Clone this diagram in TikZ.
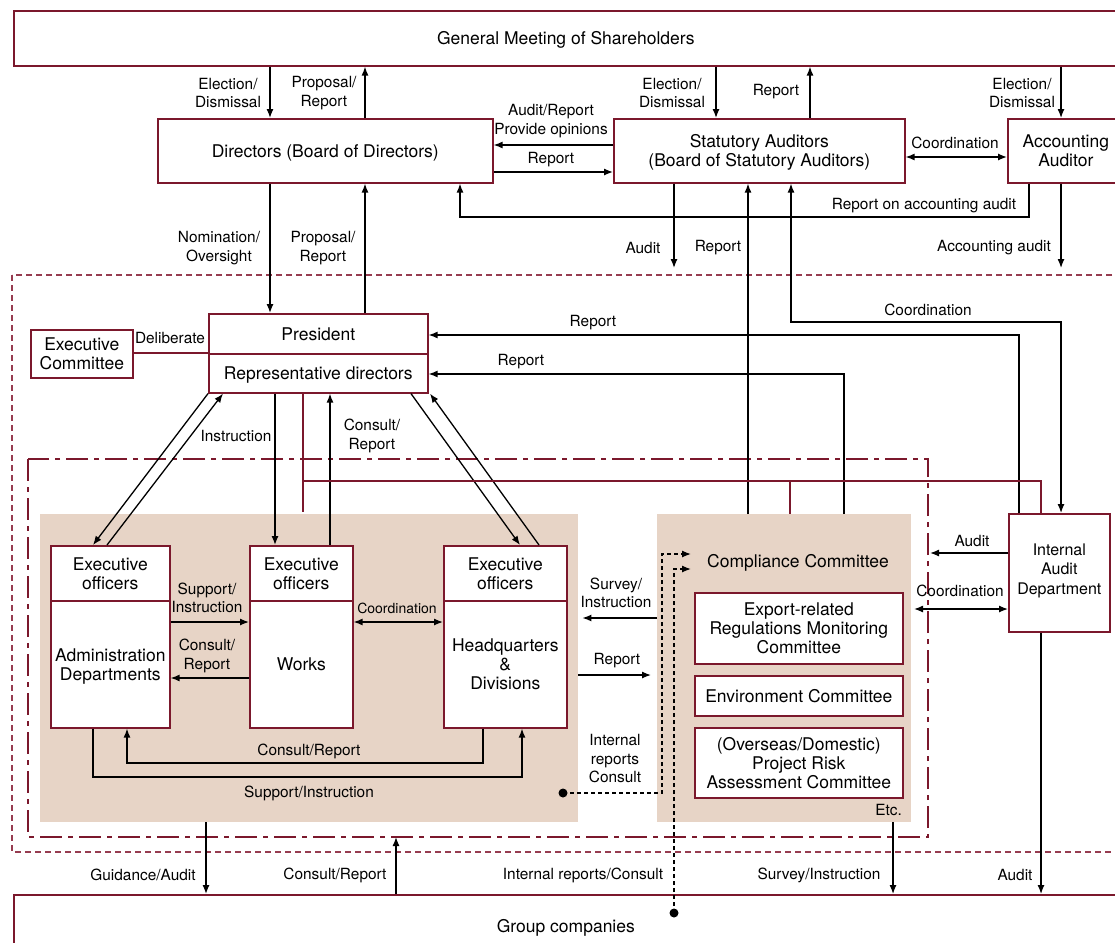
\documentclass[tikz,border=0pt]{standalone}
\usepackage{fontspec}
\setmainfont{TeX Gyre Heros}
\usetikzlibrary{arrows.meta}
\definecolor{mred}{RGB}{123,24,44}
\definecolor{mredl}{RGB}{150,60,80}
\definecolor{tanbg}{RGB}{231,212,198}
\newcommand\fb{\fontsize{17.5}{19}\selectfont}
\newcommand\fia{\fontsize{16}{19.5}\selectfont}
\newcommand\fs{\fontsize{15.4}{18.5}\selectfont}
\newcommand\fxs{\fontsize{14}{17}\selectfont}
\begin{document}
\begin{tikzpicture}[x=1pt,y=-1pt,
  box/.style={draw=mred,line width=1.6pt,fill=white,align=center,inner sep=0pt,font=\fb,anchor=north west,text depth=0pt},
  tanbox/.style={fill=tanbg,draw=none,inner sep=0pt,anchor=north west},
  arr/.style={-{Latex[length=9pt,width=7pt]},line width=1.3pt},
  darr/.style={{Latex[length=9pt,width=7pt]}-{Latex[length=9pt,width=7pt]},line width=1.3pt},
  lbl/.style={align=center,inner sep=0pt,font=\fs},
  redl/.style={draw=mred,line width=1.6pt},
  dotl/.style={dash pattern=on 4pt off 3pt},
  dotnode/.style={circle,fill=black,inner sep=0pt,minimum size=9pt},
]
\useasboundingbox (0,0) rectangle (1115,942);
\begin{scope}
\clip (0,0) rectangle (1115,942);
% coordinates
\foreach \v in {93,107,127,206,223,270,275,303,330,365,396,411,430,460,483,520,522,539,662,674,716,748,790,791,810,844,893,914,930,1019,1029,1041,1061}
  {\coordinate (X\v) at (\v,0);}
\foreach \v in {145,157,172,217,322,335,353,374,481,512,553,554,569,609,618,622,675,678,763,777,837}
  {\coordinate (Y\v) at (0,\v);}

% frames
\draw[mredl,line width=1.2pt,dash pattern=on 6pt off 4pt] (12,275) rectangle (1140,852);
\draw[mred,line width=1.2pt,dash pattern=on 22pt off 6pt on 5pt off 6pt] (28,459) rectangle (928,837);
\node[tanbox,minimum width=538pt,minimum height=308pt] (tan1) at (40,514) {};
\node[tanbox,minimum width=254pt,minimum height=308pt] (tan2) at (657,514) {};

% boxes
\node[box,minimum width=1104pt,minimum height=55pt] (gm) at (13,10) {General Meeting of Shareholders};
\node[box,minimum width=1104pt,minimum height=62pt] (gc) at (13,894) {Group companies};
\node[box,minimum width=335pt,minimum height=64pt] (dir) at (157,118) {Directors (Board of Directors)};
\node[box,minimum width=291pt,minimum height=64pt] (sa) at (613,118) {Statutory Auditors\\(Board of Statutory Auditors)};
\node[box,minimum width=116pt,minimum height=64pt] (aa) at (1007,118) {Accounting\\Auditor};
\node[box,minimum width=219pt,minimum height=40pt] (presT) at (208,313) {President};
\node[box,minimum width=219pt,minimum height=39pt] (presB) at (208,353) {Representative directors};
\node[box,minimum width=102pt,minimum height=48pt] (ec) at (30,329) {Executive\\Committee};
\node[box,minimum width=119pt,minimum height=55pt] (adminT) at (50,545) {Executive\\officers};
\node[box,minimum width=119pt,minimum height=127pt] (adminB) at (50,600) {Administration\\Departments};
\node[box,minimum width=103pt,minimum height=55pt] (worksT) at (249,545) {Executive\\officers};
\node[box,minimum width=103pt,minimum height=127pt] (worksB) at (249,600) {Works};
\node[box,minimum width=123pt,minimum height=55pt] (hqT) at (443,545) {Executive\\officers};
\node[box,minimum width=123pt,minimum height=127pt] (hqB) at (443,600) {Headquarters\\\&\\Divisions};
\node[inner sep=0pt,font=\fb] (cc) at (798,563) {Compliance Committee};
\node[box,minimum width=208pt,minimum height=71pt] (exp) at (694,592) {Export-related\\Regulations Monitoring\\Committee};
\node[box,minimum width=208pt,minimum height=40pt] (env) at (694,675) {Environment Committee};
\node[box,minimum width=208pt,minimum height=70pt] (prj) at (694,727) {(Overseas/Domestic)\\Project Risk\\Assessment Committee};
\node[box,minimum width=101pt,minimum height=118pt,font=\fia,text depth=8pt] (iad) at (1008,513) {Internal\\Audit\\Department};
\node[lbl,anchor=east] (etc) at (902,810) {Etc.};

% connectors top
\draw[arr] (gm.south -| X270) -- (dir.north -| X270);
\draw[arr] (dir.north -| X365) -- (gm.south -| X365);
\draw[arr] (gm.south -| X716) -- (sa.north -| X716);
\draw[arr] (sa.north -| X810) -- (gm.south -| X810);
\draw[arr] (gm.south -| X1061) -- (aa.north -| X1061);
\draw[arr] (sa.west |- Y145) -- (dir.east |- Y145);
\draw[arr] (dir.east |- Y172) -- (sa.west |- Y172);
\draw[darr] (sa.east |- Y157) -- (aa.west |- Y157);
\draw[arr] (aa.south -| X1029) |- (X460 |- Y217) -- (dir.south -| X460);
\coordinate (audE) at (674,268);
\coordinate (accE) at (1061,268);
\draw[arr] (sa.south -| audE) -- (audE);
\draw[arr] (aa.south -| accE) -- (accE);
\draw[arr] (dir.south -| X270) -- (presT.north -| X270);
\draw[arr] (presT.north -| X365) -- (dir.south -| X365);
\draw[arr] (tan2.north -| X748) -- (sa.south -| X748);
\draw[darr] (sa.south -| X791) |- (X1061 |- Y322) -- (iad.north -| X1061);
\draw[arr] (iad.north -| X1019) |- (presT.east |- Y335);
\draw[arr] (tan2.north -| X844) |- (presB.east |- Y374);
\draw[redl] (ec.east |- Y353) -- (presT.west |- Y353);

% diagonals and verticals
\draw[arr] (presB.south west) -- (adminT.north -| X93);
\draw[arr] (adminT.north -| X107) -- (presB.south -| X223);
\draw[arr] (presB.south -| X411) -- (hqT.north -| X520);
\draw[arr] (hqT.north -| X539) -- (presB.south -| X430);
\draw[arr] (presB.south -| X275) -- (worksT.north -| X275);
\draw[arr] (worksT.north -| X330) -- (presB.south -| X330);
\draw[redl] (presB.south -| X303) -- (X303 |- Y512);
\draw[redl] (X303 |- Y481) -| (iad.north -| X1041);
\draw[redl] (X790 |- Y481) -- (tan2.north -| X790);

% inside tan1
\draw[arr] (adminB.east |- Y622) -- (worksB.west |- Y622);
\draw[arr] (worksB.west |- Y678) -- (adminB.east |- Y678);
\draw[darr] (worksB.east |- Y622) -- (hqB.west |- Y622);
\draw[arr] (hqB.south -| X483) |- (X127 |- Y763) -- (adminB.south -| X127);
\draw[arr] (adminB.south -| X93) |- (X522 |- Y777) -- (hqB.south -| X522);

% between tan areas
\draw[arr,shorten >=4pt] (tan2.west |- Y618) -- (tan1.east |- Y618);
\draw[arr,shorten >=6pt] (tan1.east |- Y675) -- (tan2.west |- Y675);
\node[dotnode] (d1) at (563,793) {};
\node[dotnode] (d2) at (674,913) {};
\coordinate (cin1) at (691,554);
\coordinate (cin2) at (691,569);
\draw[arr,dotl] (d1.center) -| (X662 |- Y554) -- (cin1);
\draw[arr,dotl] (d2.center) |- (cin2);

% internal audit
\draw[arr] (iad.west |- Y553) -- (X930 |- Y553);
\draw[darr] (X914 |- Y609) -- (iad.west |- Y609);
\draw[arr] (iad.south -| X1041) -- (gc.north -| X1041);

% bottom
\draw[arr] (tan1.south -| X206) -- (gc.north -| X206);
\draw[arr] (gc.north -| X396) -- (X396 |- Y837);
\draw[arr] (tan2.south -| X893) -- (gc.north -| X893);

% labels
\node[lbl] (l1) at (228,93) {Election/\\Dismissal};
\node[lbl] (l2) at (324,93) {Proposal/\\Report};
\node[lbl] (l3) at (672,93) {Election/\\Dismissal};
\node[lbl] (l4) at (776,92) {Report};
\node[lbl] (l5) at (1022,93) {Election/\\Dismissal};
\node[lbl] (l6) at (551,121) {Audit/Report\\Provide opinions};
\node[lbl] (l7) at (551,160) {Report};
\node[lbl] (l8) at (955,143) {Coordination};
\node[lbl] (l9) at (924,206) {Report on accounting audit};
\node[lbl] (l10) at (643,248) {Audit};
\node[lbl] (l11) at (718,248) {Report};
\node[lbl] (l12) at (994,248) {Accounting audit};
\node[lbl] (l13) at (219,248) {Nomination/\\Oversight};
\node[lbl] (l14) at (323,248) {Proposal/\\Report};
\node[lbl] (l15) at (928,310) {Coordination};
\node[lbl] (l16) at (593,323) {Report};
\node[lbl] (l17) at (521,362) {Report};
\node[lbl] (l18) at (170,338) {Deliberate};
\node[lbl] (l19) at (236,436) {Instruction};
\node[lbl] (l20) at (372,436) {Consult/\\Report};
\node[lbl] (l21) at (207,598) {Support/\\Instruction};
\node[lbl] (l22) at (207,656) {Consult/\\Report};
\node[lbl,font=\fxs] (l23) at (397,608) {Coordination};
\node[lbl] (l24) at (309,751) {Consult/Report};
\node[lbl] (l25) at (309,793) {Support/Instruction};
\node[lbl] (l26) at (616,593) {Survey/\\Instruction};
\node[lbl] (l27) at (617,661) {Report};
\node[lbl] (l28) at (615,759) {Internal\\reports\\Consult};
\node[lbl] (l29) at (972,541) {Audit};
\node[lbl] (l30) at (960,591) {Coordination};
\node[lbl] (l31) at (143,875) {Guidance/Audit};
\node[lbl] (l32) at (335,875) {Consult/Report};
\node[lbl] (l33) at (583,875) {Internal reports/Consult};
\node[lbl] (l34) at (819,875) {Survey/Instruction};
\node[lbl] (l35) at (1015,875) {Audit};
\end{scope}
\end{tikzpicture}
\end{document}
